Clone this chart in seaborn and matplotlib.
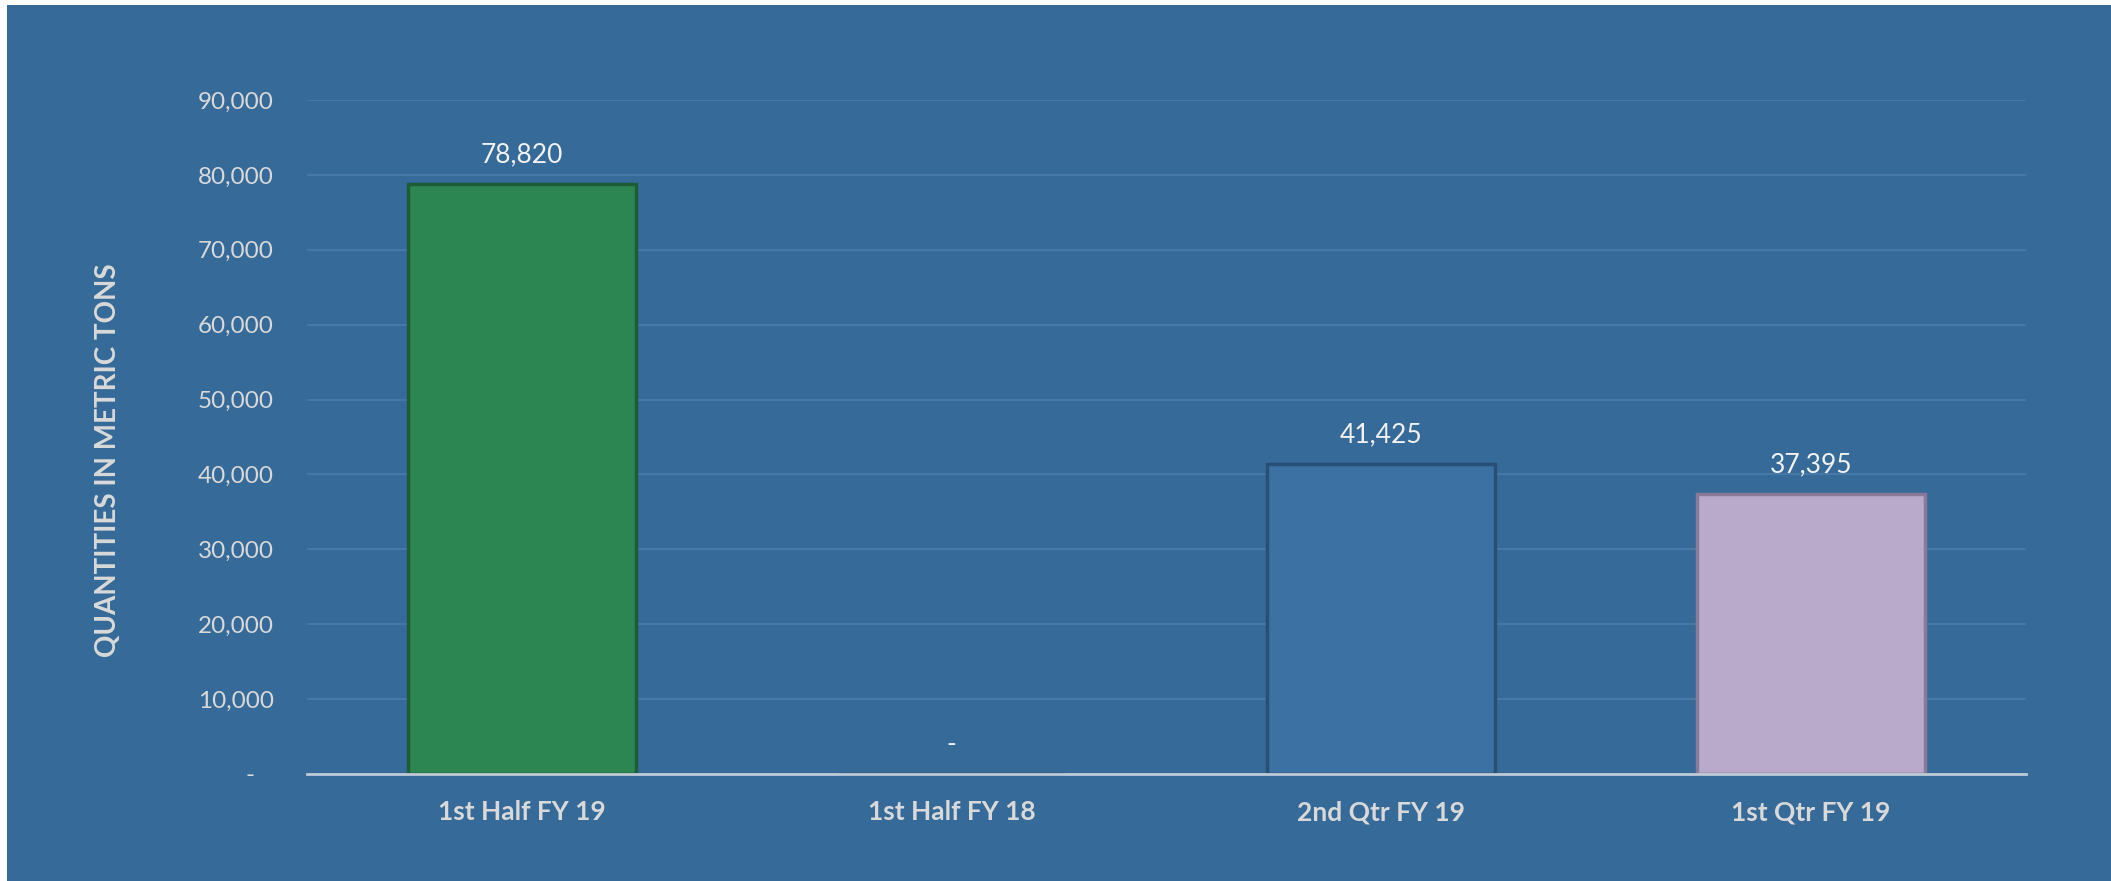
import matplotlib
matplotlib.use('Agg')
import matplotlib.pyplot as plt
from matplotlib.patches import Rectangle
from matplotlib.ticker import FuncFormatter
import pandas as pd
import seaborn as sns

# data
periods = ['1st Half FY 19', '1st Half FY 18', '2nd Qtr FY 19', '1st Qtr FY 19']
quantities = [78820, 0, 41425, 37395]
bar_colors = ['#2B8651', '#3C71A4', '#3C71A4', '#B9AACB']
edge_colors = ['#1D5C37', '#2A4F75', '#2A4F75', '#877B99']
y_ticks = [0, 10000, 20000, 30000, 40000, 50000, 60000, 70000, 80000, 90000]

bg_blue = '#366A98'
text_grey = '#D9D9D9'

sns.set_theme(style='white')
plt.rcParams['font.family'] = ['Lato', 'DejaVu Sans']

df = pd.DataFrame({'period': periods, 'qty': quantities})

fig = plt.figure(figsize=(21.11, 8.81), dpi=100, facecolor='white')
# blue chart area with thin white margin
fig.patches.append(Rectangle((0.0033, 0.0), 0.9967, 0.9945, transform=fig.transFigure,
                             facecolor=bg_blue, edgecolor='none', zorder=-10))
ax = fig.add_axes([0.1454, 0.1215, 0.8143, 0.765])
ax.set_facecolor('none')

sns.barplot(data=df, x='period', y='qty', hue='period', palette=bar_colors,
            saturation=1, width=0.53, legend=False, ax=ax, zorder=3)

for cont, ec in zip(ax.containers, edge_colors):
    for bar in cont:
        bar.set_edgecolor(ec)
        bar.set_linewidth(2.5)

# data labels
for cont, val in zip(ax.containers, quantities):
    lab = '{:,}'.format(val) if val else '-'
    ax.bar_label(cont, labels=[lab], padding=12, color='#F2F2F2', fontsize=19)

ax.set_ylim(0, 90000)
ax.set_yticks(y_ticks)
ax.yaxis.set_major_formatter(FuncFormatter(lambda v, p: '{:,.0f}'.format(v) if v else '-   '))
ax.tick_params(axis='y', length=0, pad=24, labelsize=17.5, labelcolor=text_grey)
ax.tick_params(axis='x', length=0, pad=19, labelsize=19, labelcolor=text_grey)
for lbl in ax.get_xticklabels():
    lbl.set_fontweight('bold')

ax.grid(axis='y', color='#4B7BA9', linewidth=1.2, zorder=0)
ax.set_axisbelow(True)
for side in ['top', 'right', 'left']:
    ax.spines[side].set_visible(False)
ax.spines['bottom'].set_color('#BFCAD6')
ax.spines['bottom'].set_linewidth(2)
ax.spines['bottom'].set_zorder(4)

ax.set_xlabel('')
ax.set_ylabel('QUANTITIES IN METRIC TONS', fontsize=20, fontweight='bold', color=text_grey)
ax.yaxis.set_label_coords(-0.108, 0.466)

fig.savefig('out.png', dpi=100, facecolor='white')
